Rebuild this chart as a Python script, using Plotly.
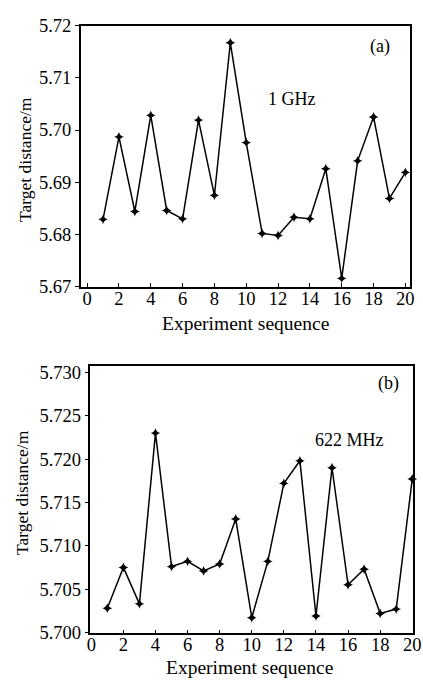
import plotly.graph_objects as go

seq = list(range(1, 21))
dist_1ghz = [5.6829, 5.6987, 5.6844, 5.7028, 5.6846, 5.6830, 5.7019, 5.6875, 5.7167, 5.6976,
             5.6802, 5.6798, 5.6833, 5.6830, 5.6926, 5.6716, 5.6941, 5.7025, 5.6869, 5.6919]
dist_622mhz = [5.7028, 5.7075, 5.7033, 5.7230, 5.7076, 5.7082, 5.7071, 5.7079, 5.7131, 5.7017,
               5.7082, 5.7172, 5.7198, 5.7019, 5.7190, 5.7055, 5.7073, 5.7022, 5.7027, 5.7177]
xticks = [0, 2, 4, 6, 8, 10, 12, 14, 16, 18, 20]
yticks_a = [5.67, 5.68, 5.69, 5.70, 5.71, 5.72]
yticks_b = [5.700, 5.705, 5.710, 5.715, 5.720, 5.725, 5.730]

W, H = 423, 687
FONT = "Liberation Serif, Times New Roman, serif"

fig = go.Figure()
marker = dict(symbol="star-diamond", size=7, color="black")
fig.add_trace(go.Scatter(x=seq, y=dist_1ghz, mode="lines+markers", line=dict(color="black", width=1.5),
                         marker=marker, xaxis="x", yaxis="y", showlegend=False, cliponaxis=False))
fig.add_trace(go.Scatter(x=seq, y=dist_622mhz, mode="lines+markers", line=dict(color="black", width=1.5),
                         marker=marker, xaxis="x2", yaxis="y2", showlegend=False, cliponaxis=False))

def px(x):
    return x / W

def py(y):
    return 1 - y / H

axis_common = dict(showline=True, linecolor="black", linewidth=1.5, mirror=True, showgrid=False,
                   zeroline=False, tickfont=dict(family=FONT, size=18.5, color="black"),
                   ticklen=4, tickcolor="black", tickwidth=1.2, ticklabeloverflow="allow")

fig.update_layout(
    width=W, height=H, margin=dict(l=0, r=0, t=0, b=0),
    paper_bgcolor="white", plot_bgcolor="white",
    font=dict(family=FONT, color="black"),
    xaxis=dict(domain=[px(79), px(418)], range=[-0.4, 20.3], tickvals=xticks, ticks="inside",
               ticklabelstandoff=-6, anchor="y", **axis_common),
    yaxis=dict(domain=[py(285), py(16)], range=[5.67, 5.72], tickvals=yticks_a,
               tickformat=".2f", ticks="outside", anchor="x", **axis_common),
    xaxis2=dict(domain=[px(89), px(421)], range=[-0.05, 20.05], tickvals=xticks, ticks="inside",
                ticklabelstandoff=-6, anchor="y2", **axis_common),
    yaxis2=dict(domain=[py(642), py(367)], range=[5.6999, 5.7307], tickvals=yticks_b,
                tickformat=".3f", ticks="outside", anchor="x2", **axis_common),
)

xt_font = dict(family=FONT, size=19.5, color="black")
yt_font = dict(family=FONT, size=17.5, color="black")
ann_font = dict(family=FONT, size=18, color="black")
anns = [
    dict(text="Experiment sequence", x=px(249), y=py(323), font=xt_font),
    dict(text="Experiment sequence", x=px(253), y=py(677), font=xt_font),
    dict(text="Target distance/m", x=px(21), y=py(154), textangle=-90, font=yt_font),
    dict(text="Target distance/m", x=px(18), y=py(497), textangle=-90, font=yt_font),
    dict(text="(a)", x=px(387), y=py(38), font=ann_font),
    dict(text="1 GHz", x=px(296), y=py(92), font=ann_font),
    dict(text="(b)", x=px(396), y=py(385), font=ann_font),
    dict(text="622 MHz", x=px(356), y=py(443), font=ann_font),
]
for a in anns:
    fig.add_annotation(xref="paper", yref="paper", showarrow=False,
                       xanchor="center", yanchor="middle", **a)

post = (
    "document.documentElement.style.margin='0';"
    "document.documentElement.style.overflow='hidden';"
    "document.body.style.margin='0';"
    "document.body.style.padding='0';"
    "document.body.style.overflow='hidden';"
    "var d=document.getElementById('{plot_id}');"
    "d.style.position='fixed';d.style.left='0px';d.style.top='0px';"
)
fig.write_html("out.html", config={"displayModeBar": False}, post_script=post)
